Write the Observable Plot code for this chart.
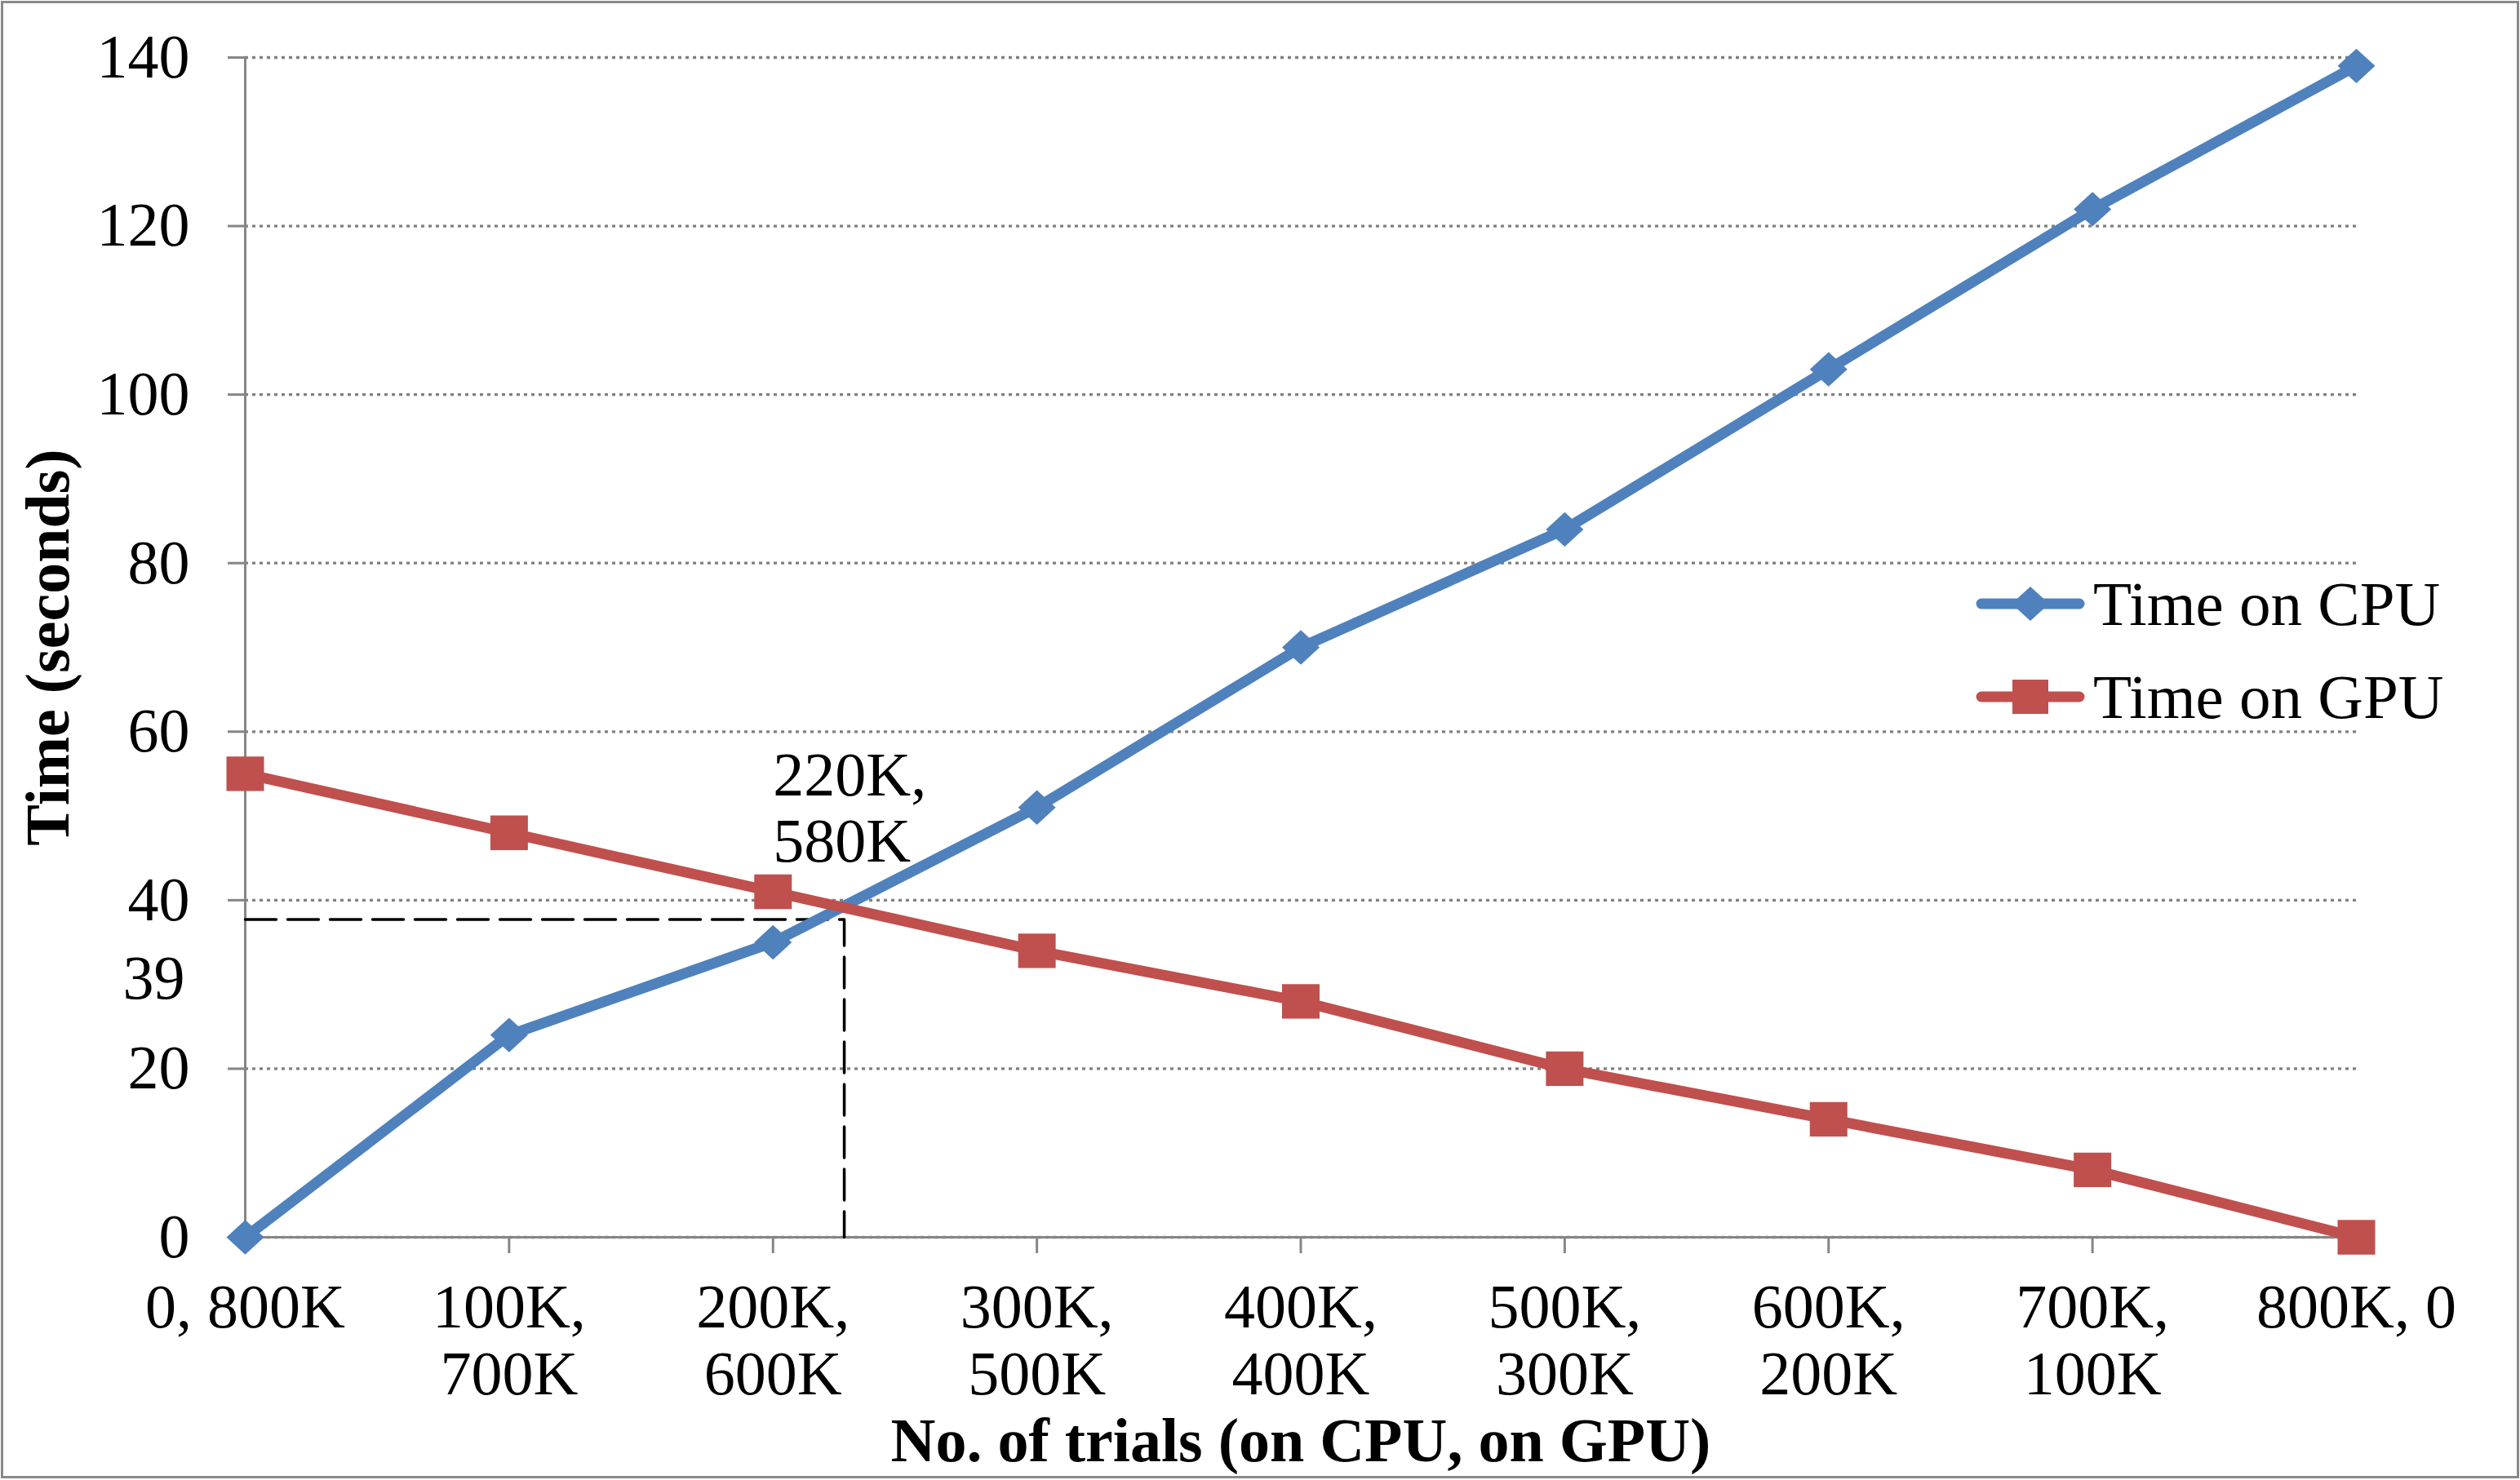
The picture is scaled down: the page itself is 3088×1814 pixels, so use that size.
<!DOCTYPE html>
<html>
<head>
<meta charset="utf-8">
<script src="https://cdn.jsdelivr.net/npm/d3@7"></script>
<script src="https://cdn.jsdelivr.net/npm/@observablehq/plot@0.6"></script>
<style>
  html, body { margin: 0; padding: 0; background: #fff; }
  #wrap { position: relative; width: 3088px; height: 1814px; background: #fff; font-family: "Liberation Serif", serif; overflow: hidden; }
  #chart svg { position: absolute; left: 0; top: 0; }
  #frame { position: absolute; left: 1px; top: 1px; width: 3086px; height: 1811px; box-sizing: border-box; border: 3px solid #8a8a8a; pointer-events: none; }
  .leg { position: absolute; left: 2420px; height: 80px; display: flex; align-items: center; font-size: 77px; color: #000; white-space: nowrap; }
  .leg svg { display: block; margin-right: 9px; }
</style>
</head>
<body>
<div id="wrap">
  <div id="chart"></div>
  <div id="legend"></div>
  <div id="frame"></div>
</div>
<script>
// ---- data ----
const categories = [0, 1, 2, 3, 4, 5, 6, 7, 8];
const xTickLabels = ["0, 800K", "100K,\n700K", "200K,\n600K", "300K,\n500K", "400K,\n400K",
                     "500K,\n300K", "600K,\n200K", "700K,\n100K", "800K, 0"];
const cpuTime = [0, 24, 35, 51, 70, 84, 103, 122, 139];
const gpuTime = [55, 48, 41, 34, 28, 20, 14, 8, 0];
const yTicks = [0, 20, 40, 60, 80, 100, 120, 140];
const seriesNames = ["Time on CPU", "Time on GPU"];
const seriesColors = ["#4F81BD", "#C0504D"];
// crossover guide (dashed) in data units
const guideX = [0, 2.27, 2.27];
const guideY = [37.7, 37.7, 0];
const crossLabel = ["220K,\n580K"];
const crossLabelX = [2];
const crossLabelY = [51];
const valueLabel = ["39"];
const valueLabelY = [30.7];
const xTitle = "No. of trials (on CPU, on GPU)";
const yTitle = "Time (seconds)";

const cpuRows = categories.map((c, i) => ({x: c, y: cpuTime[i]}));
const gpuRows = categories.map((c, i) => ({x: c, y: gpuTime[i]}));
const guideRows = guideX.map((x, i) => ({x, y: guideY[i]}));

const axisGrey = "#868686";
const FS = 76;
const LW = 13;

// marker shapes where r is the half-width of the marker
const diamondSym = {draw(ctx, size) { const r = Math.sqrt(size / Math.PI); ctx.moveTo(0, -r * 0.92); ctx.lineTo(r, 0); ctx.lineTo(0, r * 0.92); ctx.lineTo(-r, 0); ctx.closePath(); }};
const squareSym = {draw(ctx, size) { const r = Math.sqrt(size / Math.PI); ctx.rect(-r, -r * 0.92, 2 * r, 2 * r * 0.92); }};

const chart = Plot.plot({
  width: 3088,
  height: 1814,
  marginLeft: 300,
  marginRight: 201,
  marginTop: 70,
  marginBottom: 298,
  style: {fontFamily: "Liberation Serif, serif", fontSize: FS + "px", background: "transparent", color: "#000", overflow: "visible"},
  x: {type: "linear", domain: [0, 8]},
  y: {type: "linear", domain: [0, 140]},
  marks: [
    Plot.gridY(yTicks, {stroke: "#808080", strokeOpacity: 1, strokeWidth: 3.3, strokeDasharray: "4,5"}),
    Plot.axisY(yTicks, {tickSize: 21, tickPadding: 47, stroke: axisGrey, strokeWidth: 3, fill: "#000", fontSize: FS, label: null}),
    Plot.axisX(categories, {tickSize: 20, tickPadding: 33, stroke: axisGrey, strokeWidth: 3, fill: "#000", fontSize: FS,
      tickFormat: (i) => xTickLabels[i], lineHeight: 1.07, label: null}),
    Plot.ruleX([0], {stroke: axisGrey, strokeWidth: 3}),
    Plot.ruleY([0], {stroke: axisGrey, strokeWidth: 3}),
    Plot.line(guideRows, {x: "x", y: "y", stroke: "#000", strokeWidth: 3.5, strokeDasharray: "38,14"}),
    Plot.line(cpuRows, {x: "x", y: "y", stroke: seriesColors[0], strokeWidth: LW}),
    Plot.dot(cpuRows, {x: "x", y: "y", symbol: diamondSym, fill: seriesColors[0], r: 23}),
    Plot.line(gpuRows, {x: "x", y: "y", stroke: seriesColors[1], strokeWidth: LW}),
    Plot.dot(gpuRows, {x: "x", y: "y", symbol: squareSym, fill: seriesColors[1], r: 23}),
    Plot.text(crossLabel, {x: crossLabelX, y: crossLabelY, text: (d) => d, textAnchor: "start", lineAnchor: "middle", lineHeight: 1.07, fontSize: FS, fill: "#000"}),
    Plot.text(valueLabel, {x: [0], y: valueLabelY, text: (d) => d, textAnchor: "end", dx: -74, fontSize: FS, fill: "#000"}),
    Plot.text([yTitle], {frameAnchor: "left", text: (d) => d, rotate: -90, dx: -241, textAnchor: "middle", lineAnchor: "middle", fontWeight: "bold", fontSize: FS, fill: "#000"}),
    Plot.text([xTitle], {frameAnchor: "bottom", text: (d) => d, dy: 250, textAnchor: "middle", lineAnchor: "middle", fontWeight: "bold", fontSize: FS, fill: "#000"})
  ]
});
document.getElementById("chart").appendChild(chart);

// ---- legend ----
const legend = document.getElementById("legend");
const legendTops = [700, 814];
seriesNames.forEach((name, i) => {
  const row = document.createElement("div");
  row.className = "leg";
  row.style.top = legendTops[i] + "px";
  const ns = "http://www.w3.org/2000/svg";
  const sw = document.createElementNS(ns, "svg");
  sw.setAttribute("width", 136);
  sw.setAttribute("height", 50);
  const ln = document.createElementNS(ns, "line");
  ln.setAttribute("x1", 8); ln.setAttribute("x2", 128);
  ln.setAttribute("y1", 25); ln.setAttribute("y2", 25);
  ln.setAttribute("stroke", seriesColors[i]);
  ln.setAttribute("stroke-width", LW);
  ln.setAttribute("stroke-linecap", "round");
  sw.appendChild(ln);
  const mk = document.createElementNS(ns, "path");
  if (i === 0) mk.setAttribute("d", "M68,4 L91,25 L68,46 L45,25 Z");
  else mk.setAttribute("d", "M46,4 H90 V46 H46 Z");
  mk.setAttribute("fill", seriesColors[i]);
  sw.appendChild(mk);
  row.appendChild(sw);
  const t = document.createElement("span");
  t.textContent = name;
  row.appendChild(t);
  legend.appendChild(row);
});
</script>
</body>
</html>
